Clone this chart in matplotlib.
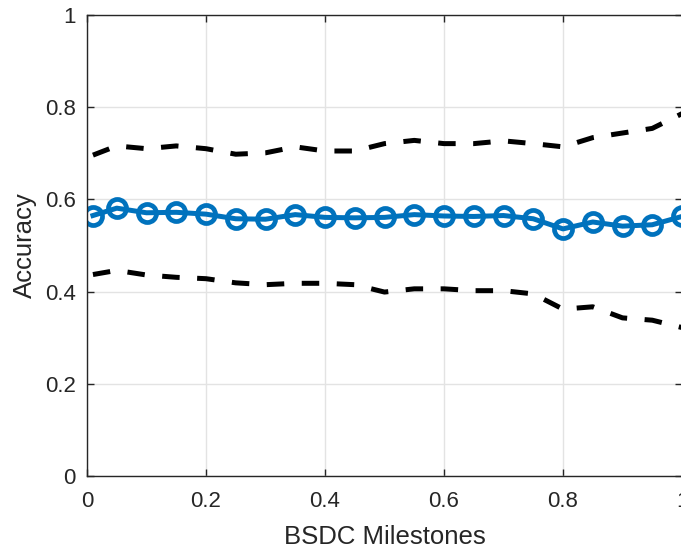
import matplotlib
matplotlib.use("Agg")
import matplotlib.pyplot as plt

# milestone positions and accuracy values
milestones = [0.01, 0.05, 0.10, 0.15, 0.20, 0.25, 0.30, 0.35, 0.40, 0.45, 0.50,
              0.55, 0.60, 0.65, 0.70, 0.75, 0.80, 0.85, 0.90, 0.95, 1.00]
acc_mean = [0.565, 0.581, 0.571, 0.572, 0.568, 0.558, 0.557, 0.567, 0.561, 0.560, 0.561,
            0.567, 0.564, 0.563, 0.565, 0.558, 0.536, 0.551, 0.542, 0.545, 0.563]
acc_upper = [0.696, 0.716, 0.710, 0.716, 0.710, 0.698, 0.701, 0.714, 0.705, 0.705, 0.721,
             0.728, 0.721, 0.721, 0.727, 0.721, 0.714, 0.734, 0.744, 0.754, 0.786]
acc_lower = [0.437, 0.446, 0.436, 0.431, 0.428, 0.419, 0.415, 0.418, 0.418, 0.415, 0.399,
             0.406, 0.406, 0.402, 0.402, 0.395, 0.362, 0.367, 0.343, 0.338, 0.322]

xticks = [0, 0.2, 0.4, 0.6, 0.8, 1]
xticklabels = ["0", "0.2", "0.4", "0.6", "0.8", "1"]

plt.rcParams['font.family'] = ['Liberation Sans', 'DejaVu Sans']

fig = plt.figure(figsize=(6.81, 5.5), dpi=100)
ax = fig.add_axes([87 / 681, 1 - 476 / 550, 595 / 681, 461 / 550])

ax.plot(milestones, acc_upper, color='black', linestyle=(0, (3.5, 3.5)), linewidth=3.6)
ax.plot(milestones, acc_lower, color='black', linestyle=(0, (3.5, 3.5)), linewidth=3.6)
ax.plot(milestones, acc_mean, color='#0072BD', linewidth=3.6, marker='o',
        markersize=13, markerfacecolor='none', markeredgewidth=3.4)

ax.set_xlim(0, 1)
ax.set_ylim(0, 1)
ax.set_xticks(xticks)
ax.set_xticklabels(xticklabels)
ax.set_yticks(xticks)
ax.set_yticklabels(xticklabels)

ax.grid(True, color='#e3e3e3', linewidth=1.0)
ax.set_axisbelow(True)
for s in ax.spines.values():
    s.set_color('#262626')
    s.set_linewidth(1.0)
ax.tick_params(direction='in', length=5, width=1.0, color='#262626',
               top=True, right=True, labelsize=16, labelcolor='#262626')
ax.tick_params(axis='x', pad=11)
ax.tick_params(axis='y', pad=8)

ax.set_xlabel("BSDC Milestones", fontsize=18.5, color='#262626', labelpad=9)
ax.set_ylabel("Accuracy", fontsize=18.5, color='#262626', labelpad=6)

fig.savefig("out.png", dpi=100)
